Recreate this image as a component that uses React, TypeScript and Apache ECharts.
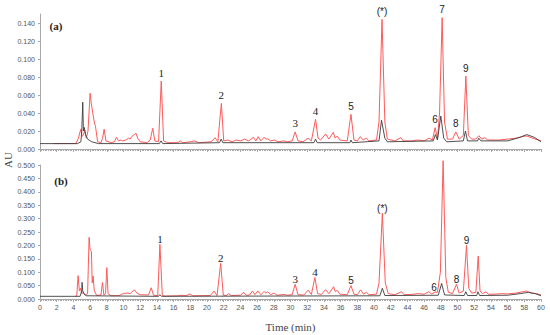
import React, { useEffect, useRef } from "react";
import * as echarts from "echarts";

// ---- data: [time (min), AU] ----
const redA: number[][] = [
  [1.6, 0.006], [4.3, 0.006], [4.6, 0.012], [4.88, 0.022], [5.05, 0.014], [5.2, 0.016], [5.36, 0.021], [5.55, 0.012],
  [5.75, 0.02], [6.0, 0.062], [6.15, 0.05], [6.3, 0.041], [6.5, 0.03], [6.65, 0.025], [6.9, 0.008], [7.3, 0.007],
  [7.5, 0.012], [7.68, 0.022], [7.9, 0.009], [8.5, 0.007], [8.9, 0.008], [9.16, 0.013], [9.4, 0.009], [9.7, 0.01],
  [9.9, 0.009], [10.3, 0.01], [10.6, 0.012], [10.8, 0.011], [11.0, 0.014], [11.3, 0.016], [11.5, 0.0175], [11.7, 0.012],
  [12.0, 0.008], [12.8, 0.007], [13.2, 0.01], [13.5, 0.023], [13.75, 0.009], [14.2, 0.008], [14.52, 0.0755], [14.8, 0.009],
  [15.3, 0.007], [16.5, 0.007], [16.8, 0.009], [17.1, 0.007], [18.0, 0.008], [18.5, 0.009], [19, 0.007], [20.5, 0.008],
  [20.96, 0.0126], [21.3, 0.008], [21.72, 0.0507], [22.0, 0.009], [22.5, 0.01], [23, 0.008], [23.5, 0.01], [24, 0.009],
  [24.5, 0.011], [25, 0.009], [25.56, 0.013], [25.85, 0.009], [26.12, 0.0137], [26.45, 0.009], [26.84, 0.013], [27.05, 0.011],
  [27.28, 0.0114], [27.6, 0.009], [28.08, 0.01], [28.5, 0.008], [29.2, 0.009], [29.6, 0.008], [30.2, 0.009], [30.56, 0.019],
  [30.9, 0.009], [31.5, 0.008], [32.12, 0.012], [32.5, 0.009], [33.0, 0.033], [33.3, 0.012], [33.6, 0.01], [34.2, 0.0167],
  [34.6, 0.011], [35.12, 0.0185], [35.35, 0.012], [35.6, 0.0144], [35.9, 0.01], [36.8, 0.009], [37.24, 0.0385], [37.6, 0.01],
  [38.0, 0.009], [38.36, 0.0137], [38.7, 0.01], [39.08, 0.012], [39.4, 0.009], [40.3, 0.01], [40.6, 0.03], [40.96, 0.144],
  [41.3, 0.03], [41.6, 0.011], [42.5, 0.009], [43.2, 0.0126], [43.5, 0.009], [44.5, 0.009], [45.2, 0.01], [46.0, 0.009],
  [46.6, 0.012], [47.0, 0.01], [47.32, 0.0237], [47.6, 0.012], [47.85, 0.04], [48.16, 0.146], [48.45, 0.03], [48.8, 0.011],
  [49.4, 0.011], [49.8, 0.019], [50.2, 0.011], [50.7, 0.015], [51.0, 0.081], [51.3, 0.015], [51.7, 0.011], [52.2, 0.011],
  [52.56, 0.0148], [52.9, 0.011], [53.28, 0.0126], [53.6, 0.01], [55, 0.01], [56, 0.011], [57, 0.012], [57.8, 0.014],
  [58.3, 0.0144], [59, 0.012], [60, 0.009],
];

const blackA: number[][] = [
  [0, 0.006], [4.5, 0.006], [4.9, 0.008], [5.0, 0.02], [5.12, 0.052], [5.2, 0.02], [5.3, 0.024], [5.45, 0.016],
  [5.7, 0.011], [6.2, 0.008], [7, 0.006], [14.3, 0.006], [14.5, 0.009], [14.7, 0.006], [21.5, 0.007], [21.7, 0.011],
  [21.9, 0.007], [32.8, 0.007], [33.0, 0.011], [33.2, 0.007], [37.1, 0.007], [37.24, 0.01], [37.4, 0.007], [40.6, 0.009],
  [40.9, 0.032], [41.3, 0.012], [41.6, 0.008], [47.1, 0.009], [47.35, 0.016], [47.6, 0.01], [48.0, 0.0366], [48.35, 0.012],
  [48.7, 0.008], [50.7, 0.009], [50.95, 0.02], [51.2, 0.009], [52.4, 0.009], [52.55, 0.012], [52.8, 0.009], [56, 0.009],
  [57.5, 0.013], [58.3, 0.016], [59.2, 0.013], [60, 0.008],
];

const redB: number[][] = [
  [4.2, 0.01], [4.4, 0.012], [4.56, 0.087], [4.72, 0.03], [4.85, 0.04], [5.0, 0.02], [5.2, 0.025], [5.4, 0.015],
  [5.7, 0.02], [5.88, 0.23], [6.0, 0.183], [6.1, 0.18], [6.16, 0.177], [6.25, 0.06], [6.36, 0.086], [6.5, 0.03],
  [6.8, 0.013], [7.3, 0.015], [7.48, 0.062], [7.65, 0.015], [7.85, 0.02], [8.0, 0.117], [8.15, 0.02], [8.5, 0.012],
  [9.5, 0.013], [10.0, 0.021], [10.5, 0.022], [10.8, 0.02], [11.0, 0.026], [11.32, 0.034], [11.6, 0.022], [12.0, 0.016],
  [13.0, 0.015], [13.32, 0.042], [13.6, 0.014], [14.1, 0.013], [14.36, 0.204], [14.65, 0.013], [15, 0.011], [16.5, 0.012],
  [17, 0.014], [17.5, 0.012], [17.96, 0.019], [18.3, 0.012], [20.4, 0.013], [20.84, 0.03], [21.2, 0.013], [21.64, 0.133],
  [21.95, 0.014], [22.3, 0.013], [22.6, 0.02], [22.9, 0.013], [24, 0.014], [24.4, 0.025], [24.7, 0.014], [25.1, 0.015],
  [25.44, 0.03], [25.75, 0.016], [26.08, 0.03], [26.45, 0.016], [26.84, 0.028], [27.05, 0.022], [27.28, 0.027], [27.6, 0.016],
  [28.04, 0.022], [28.4, 0.014], [29.24, 0.017], [29.6, 0.014], [30.2, 0.016], [30.56, 0.055], [30.9, 0.016], [31.6, 0.015],
  [32.12, 0.033], [32.5, 0.017], [32.92, 0.08], [33.25, 0.02], [33.7, 0.017], [34.2, 0.035], [34.6, 0.02], [35.16, 0.046],
  [35.35, 0.028], [35.6, 0.032], [35.9, 0.018], [36.8, 0.016], [37.24, 0.05], [37.6, 0.018], [38.0, 0.016], [38.4, 0.034],
  [38.75, 0.018], [39.1, 0.025], [39.4, 0.016], [40.3, 0.018], [40.6, 0.06], [41.0, 0.32], [41.35, 0.06], [41.7, 0.02],
  [42.5, 0.016], [43.3, 0.027], [43.6, 0.016], [44.5, 0.017], [45.3, 0.02], [46.0, 0.018], [46.56, 0.027], [46.9, 0.019],
  [47.32, 0.026], [47.6, 0.025], [47.95, 0.1], [48.28, 0.516], [48.6, 0.08], [48.9, 0.025], [49.4, 0.02], [49.88, 0.055],
  [50.2, 0.022], [50.7, 0.03], [51.08, 0.2], [51.35, 0.04], [51.7, 0.022], [52.2, 0.025], [52.48, 0.16], [52.7, 0.03],
  [53.0, 0.02], [53.4, 0.027], [53.7, 0.018], [54.5, 0.018], [55.3, 0.02], [56, 0.019], [57, 0.022], [58.3, 0.03],
  [58.8, 0.022], [59.5, 0.02], [60, 0.015],
];

const blackB: number[][] = [
  [0, 0.01], [4.8, 0.01], [5.0, 0.03], [5.04, 0.062], [5.12, 0.03], [5.25, 0.02], [5.5, 0.012], [14.2, 0.01],
  [14.36, 0.016], [14.55, 0.01], [40.7, 0.012], [41.0, 0.04], [41.3, 0.013], [47.7, 0.014], [48.1, 0.058], [48.45, 0.015],
  [50.8, 0.013], [51.0, 0.027], [51.2, 0.013], [52.3, 0.013], [52.45, 0.027], [52.65, 0.013], [56, 0.014], [57.5, 0.02],
  [58.5, 0.025], [59.3, 0.02], [60, 0.012],
];

// peak labels: [text, time, AU]
const peakLabelsA: [string, number, number][] = [
  ["1", 14.52, 0.0755], ["2", 21.72, 0.0507], ["3", 30.56, 0.019], ["4", 33.0, 0.033], ["5", 37.24, 0.0385],
  ["(*)", 40.96, 0.144], ["6", 47.32, 0.0237], ["7", 48.16, 0.146], ["8", 49.8, 0.019], ["9", 51.0, 0.081],
];
const peakLabelsB: [string, number, number][] = [
  ["1", 14.36, 0.204], ["2", 21.64, 0.133], ["3", 30.56, 0.055], ["4", 32.92, 0.08], ["5", 37.24, 0.05],
  ["(*)", 41.0, 0.32], ["6", 47.2, 0.026], ["7", 48.28, 0.516], ["8", 49.88, 0.055], ["9", 51.08, 0.2],
];
const serifLabels = ["1", "2", "3", "4"];

const xTicks = { min: 0, max: 60, interval: 2 };
const yTicksA = { min: 0, max: 0.15, interval: 0.02 };
const yTicksB = { min: 0, max: 0.5, interval: 0.05 };

const SERIF = "'Liberation Serif', 'DejaVu Serif', serif";
const SANS = "'Liberation Sans', Arial, sans-serif";
const RED = "#ff5a5a";
const BLACK = "#3c3c3c";
const AXIS = "#a8a8a8";

function markPoints(list: [string, number, number][], dist: number) {
  return {
    symbol: "circle",
    symbolSize: 0,
    silent: true,
    data: list.map(([t, x, y]) => ({
      coord: [x, y],
      value: t,
      label: {
        show: true,
        position: "top",
        distance: dist,
        formatter: t,
        color: "#222",
        fontFamily: serifLabels.includes(t) ? SERIF : SANS,
        fontSize: serifLabels.includes(t) ? 11 : 10,
      },
    })),
  };
}

export default function App() {
  const ref = useRef<HTMLDivElement>(null);
  useEffect(() => {
    if (!ref.current) return;
    const chart = echarts.init(ref.current, undefined, { renderer: "svg" });
    const xBase = (showLabels: boolean, gridIndex: number) => ({
      type: "value",
      gridIndex,
      ...xTicks,
      axisLine: { show: true, onZero: false, lineStyle: { color: AXIS, width: 1 } },
      axisTick: { show: true, length: 3, lineStyle: { color: AXIS } },
      minorTick: { show: true, splitNumber: 10, length: 2, lineStyle: { color: AXIS } },
      splitLine: { show: false },
      axisLabel: { show: showLabels, fontSize: 7, color: "#555", fontFamily: SANS, margin: 5 },
    });
    const yBase = (ticks: any, gridIndex: number, showMax: boolean) => ({
      type: "value",
      gridIndex,
      ...ticks,
      axisLine: { show: true, lineStyle: { color: AXIS, width: 1 } },
      axisTick: { show: true, length: 2, lineStyle: { color: AXIS } },
      splitLine: { show: false },
      axisLabel: {
        fontSize: 7,
        color: "#555",
        fontFamily: SANS,
        margin: 5,
        showMaxLabel: showMax,
        formatter: (v: number) => v.toFixed(3),
      },
    });
    chart.setOption({
      animation: false,
      backgroundColor: "#fff",
      grid: [
        { left: 40, right: 9, top: 14, height: 135 },
        { left: 40, right: 9, top: 165, height: 134 },
      ],
      xAxis: [
        xBase(false, 0),
        {
          ...xBase(true, 1),
          name: "Time (min)",
          nameLocation: "middle",
          nameGap: 22,
          nameTextStyle: { fontFamily: SERIF, fontSize: 11, color: "#444" },
        },
      ],
      yAxis: [yBase(yTicksA, 0, false), yBase(yTicksB, 1, true)],
      series: [
        {
          type: "line", xAxisIndex: 0, yAxisIndex: 0, data: redA, showSymbol: false, clip: false,
          lineStyle: { color: RED, width: 1 }, markPoint: markPoints(peakLabelsA, 3),
        },
        {
          type: "line", xAxisIndex: 0, yAxisIndex: 0, data: blackA, showSymbol: false, clip: false,
          lineStyle: { color: BLACK, width: 0.9 },
        },
        {
          type: "line", xAxisIndex: 1, yAxisIndex: 1, data: redB, showSymbol: false, clip: false,
          lineStyle: { color: RED, width: 1 }, markPoint: markPoints(peakLabelsB, 0),
        },
        {
          type: "line", xAxisIndex: 1, yAxisIndex: 1, data: blackB, showSymbol: false, clip: false,
          lineStyle: { color: BLACK, width: 0.9 },
        },
      ],
      graphic: [
        { type: "text", x: 56, y: 26, style: { text: "(a)", font: `bold 11px ${SERIF}`, fill: "#222", align: "center", verticalAlign: "middle" } },
        { type: "text", x: 61, y: 181, style: { text: "(b)", font: `bold 11px ${SERIF}`, fill: "#222", align: "center", verticalAlign: "middle" } },
        { type: "text", x: 8, y: 160, rotation: Math.PI / 2, style: { text: "AU", font: `11px ${SERIF}`, fill: "#444", align: "center", verticalAlign: "middle" } },
      ],
    });
    return () => chart.dispose();
  }, []);
  return <div ref={ref} style={{ width: 550, height: 335, position: "absolute", left: 0, top: 0 }} />;
}
